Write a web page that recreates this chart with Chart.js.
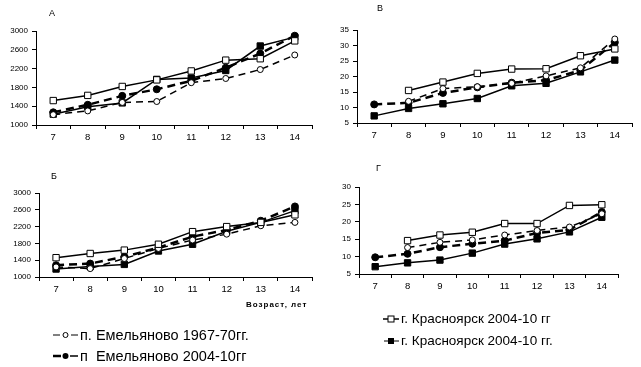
<!DOCTYPE html>
<html>
<head>
<meta charset="utf-8">
<script src="https://cdn.jsdelivr.net/npm/chart.js@4.4.1/dist/chart.umd.min.js"></script>
<style>
    body { margin: 0; background: #fff; }
    #page { position: relative; width: 641px; height: 367px; overflow: hidden; font-family: "Liberation Sans", Arial, sans-serif; color: #000; }
    canvas { position: absolute; }
    .letter { position: absolute; font-size: 9px; line-height: 9px; }
    .axis-name { position: absolute; font-size: 8px; font-weight: bold; letter-spacing: 1px; }
    .leg { position: absolute; line-height: 16px; white-space: nowrap; display: flex; align-items: center; }
    .leg svg { margin-right: 2px; }
</style>
</head>
<body>
<div id="page">
    <canvas id="chartA" width="320" height="150" style="left:0;top:0"></canvas>
    <canvas id="chartV" width="321" height="150" style="left:320px;top:0"></canvas>
    <canvas id="chartB" width="320" height="150" style="left:0;top:160px"></canvas>
    <canvas id="chartG" width="321" height="150" style="left:320px;top:160px"></canvas>

    <div class="letter" style="left:49px;top:9px">А</div>
    <div class="letter" style="left:377px;top:4px">В</div>
    <div class="letter" style="left:51px;top:172px">Б</div>
    <div class="letter" style="left:376px;top:164px">Г</div>
    <div class="axis-name" style="left:246px;top:300px">Возраст, лет</div>

    <div class="leg" style="left:53px;top:327px;font-size:14.5px">
        <svg width="25" height="10"><line x1="0" y1="5" x2="7" y2="5" stroke="#000" stroke-width="1"/><line x1="18" y1="5" x2="25" y2="5" stroke="#000" stroke-width="1"/><circle cx="12.5" cy="5" r="2.5" fill="#fff" stroke="#000" stroke-width="1"/></svg>
        п. Емельяново 1967-70гг.
    </div>
    <div class="leg" style="left:53px;top:348px;font-size:14.5px">
        <svg width="25" height="10"><line x1="0" y1="5" x2="8" y2="5" stroke="#000" stroke-width="2.5"/><line x1="17" y1="5" x2="25" y2="5" stroke="#000" stroke-width="1.5"/><circle cx="12.5" cy="5" r="3" fill="#000"/></svg>
        п&nbsp; Емельяново 2004-10гг
    </div>
    <div class="leg" style="left:383px;top:311px;font-size:13.5px">
        <svg width="16" height="10"><line x1="0" y1="5" x2="16" y2="5" stroke="#000" stroke-width="1.5"/><rect x="5" y="2" width="6" height="6" fill="#fff" stroke="#000" stroke-width="1"/></svg>
        г. Красноярск 2004-10 гг
    </div>
    <div class="leg" style="left:384px;top:333px;font-size:13.5px">
        <svg width="15" height="10"><line x1="0" y1="5" x2="15" y2="5" stroke="#000" stroke-width="1"/><rect x="4" y="2" width="6" height="6" fill="#000"/></svg>
        г. Красноярск 2004-10 гг.
    </div>
</div>

<script>
// Age categories (x axis)
const ages = ['7', '8', '9', '10', '11', '12', '13', '14'];

// Y tick values
const massTicks = [1000, 1400, 1800, 2200, 2600, 3000];
const ticksV = [5, 10, 15, 20, 25, 30, 35];
const ticksG = [5, 10, 15, 20, 25, 30];

// Panel А
const emel1967A = [1220, 1300, 1480, 1500, 1900, 1990, 2180, 2490];
const emel2004A = [1270, 1430, 1620, 1760, 1940, 2220, 2520, 2900];
const krasOpenA = [1520, 1630, 1820, 1960, 2150, 2380, 2410, 2790];
const krasFillA = [1230, 1390, 1470, 1970, 2000, 2160, 2680, 2870];

// Panel В
const emel1967V = [null, 12.0, 16.1, 16.7, 17.8, 20.2, 22.8, 32.1];
const emel2004V = [11.0, 11.5, 14.7, 16.5, 18.0, 18.8, 22.0, 31.0];
const krasOpenV = [null, 15.5, 18.2, 21.0, 22.4, 22.5, 26.7, 28.9];
const krasFillV = [7.3, 9.7, 11.2, 12.9, 17.0, 17.8, 21.5, 25.3];

// Panel Б
const emel1967B = [1240, 1200, 1440, 1680, 1880, 2020, 2220, 2300];
const emel2004B = [1280, 1320, 1480, 1700, 1960, 2120, 2340, 2680];
const krasOpenB = [1460, 1560, 1640, 1780, 2080, 2200, 2300, 2480];
const krasFillB = [1190, 1250, 1300, 1620, 1780, 2090, 2300, 2580];

// Panel Г
const emel1967G = [null, 12.6, 14.1, 14.8, 16.2, 17.5, 18.5, 22.3];
const emel2004G = [9.8, 10.8, 12.7, 13.7, 14.6, 16.8, 17.7, 22.8];
const krasOpenG = [null, 14.6, 16.2, 17.0, 19.5, 19.5, 24.7, 24.9];
const krasFillG = [7.1, 8.2, 9.0, 11.0, 13.6, 15.1, 17.1, 21.3];

const FONT = '"Liberation Sans", Arial, sans-serif';

/**
 * Build the four datasets of one panel
 */
function buildDatasets(em1967, em2004, krasOpen, krasFill) {
    return [
        {
            label: 'г. Красноярск 2004-10 гг',
            data: krasOpen,
            borderColor: '#000', borderWidth: 1.5,
            pointStyle: 'rect', pointRadius: 4.5,
            pointBackgroundColor: '#fff', pointBorderColor: '#000', pointBorderWidth: 1
        },
        {
            label: 'п. Емельяново 1967-70гг.',
            data: em1967,
            borderColor: '#000', borderWidth: 1.5, borderDash: [7, 5],
            pointStyle: 'circle', pointRadius: 3,
            pointBackgroundColor: '#fff', pointBorderColor: '#000', pointBorderWidth: 1
        },
        {
            label: 'п  Емельяново 2004-10гг',
            data: em2004,
            borderColor: '#000', borderWidth: 2.5, borderDash: [8, 5],
            pointStyle: 'circle', pointRadius: 3.5,
            pointBackgroundColor: '#000', pointBorderColor: '#000', pointBorderWidth: 1
        },
        {
            label: 'г. Красноярск 2004-10 гг.',
            data: krasFill,
            borderColor: '#000', borderWidth: 1.5,
            pointStyle: 'rect', pointRadius: 4.5,
            pointBackgroundColor: '#000', pointBorderColor: '#000', pointBorderWidth: 1
        }
    ];
}

/**
 * Draw one panel; pad fixes the plot area inside the canvas
 */
function drawPanel(id, datasets, yTicks, pad) {
    const ctx = document.getElementById(id).getContext('2d');
    return new Chart(ctx, {
        type: 'line',
        data: { labels: ages, datasets: datasets },
        options: {
            responsive: false,
            animation: false,
            spanGaps: false,
            layout: { padding: pad },
            plugins: { legend: { display: false }, tooltip: { enabled: false } },
            elements: { line: { tension: 0, fill: false } },
            scales: {
                x: {
                    offset: true,
                    grid: { offset: true, drawOnChartArea: false, drawTicks: true, tickLength: 4, color: '#000' },
                    border: { display: true, color: '#000', width: 1 },
                    ticks: { color: '#000', font: { family: FONT, size: 9.5 }, padding: 3, maxRotation: 0 },
                    afterFit: function(scale) { scale.height = 22; }
                },
                y: {
                    min: yTicks[0],
                    max: yTicks[yTicks.length - 1],
                    grid: { drawOnChartArea: false, drawTicks: true, tickLength: 4, color: '#000' },
                    border: { display: true, color: '#000', width: 1 },
                    ticks: {
                        stepSize: yTicks[1] - yTicks[0],
                        color: '#000',
                        font: { family: FONT, size: 8 },
                        padding: 4,
                        callback: function(value) { return String(value); }
                    },
                    afterFit: function(scale) { scale.width = 34; }
                }
            }
        }
    });
}

drawPanel('chartA', buildDatasets(emel1967A, emel2004A, krasOpenA, krasFillA), massTicks,
    { left: 2, right: 8, top: 31, bottom: 3 });
drawPanel('chartV', buildDatasets(emel1967V, emel2004V, krasOpenV, krasFillV), ticksV,
    { left: 3, right: 9, top: 30, bottom: 5 });
drawPanel('chartB', buildDatasets(emel1967B, emel2004B, krasOpenB, krasFillB), massTicks,
    { left: 5, right: 8, top: 33, bottom: 11 });
drawPanel('chartG', buildDatasets(emel1967G, emel2004G, krasOpenG, krasFillG), ticksG,
    { left: 5, right: 23, top: 27, bottom: 14 });
</script>
</body>
</html>
